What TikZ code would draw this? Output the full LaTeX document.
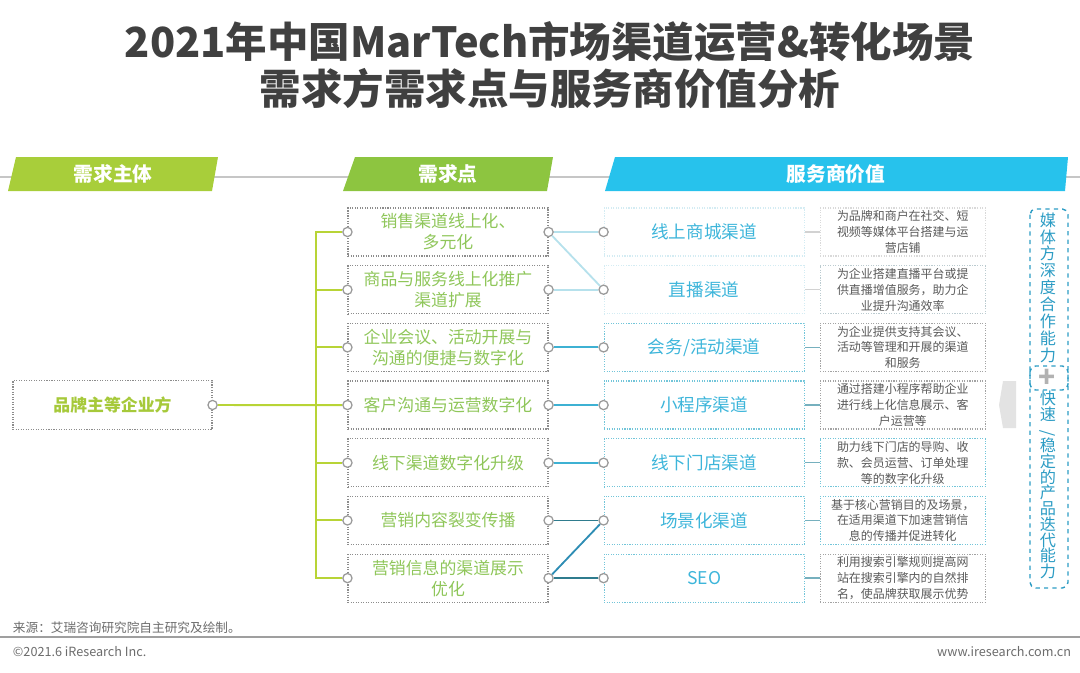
\documentclass[tikz,border=0pt]{standalone}
\usepackage{fontspec}
\setmainfont{Noto Sans CJK SC}
\usepackage{xcolor}
\usepackage{tikz}
\usetikzlibrary{positioning}
\definecolor{titlegray}{HTML}{404040}
\definecolor{hdrA}{HTML}{A8CE3A}
\definecolor{hdrB}{HTML}{8DC540}
\definecolor{hdrC}{HTML}{27C2EC}
\definecolor{boxgray}{HTML}{8C8C8C}
\definecolor{brandgreen}{HTML}{A6C93A}
\definecolor{needgreen}{HTML}{8FC65A}
\definecolor{svctext}{HTML}{3DB5DA}
\definecolor{svclight}{HTML}{D4ECF3}
\definecolor{svcline}{HTML}{72C5D9}
\definecolor{desctext}{HTML}{595959}
\definecolor{trunkgreen}{HTML}{B8D436}
\definecolor{jointgray}{HTML}{9A9A9A}
\definecolor{linkA}{HTML}{B6E1EC}
\definecolor{linkB}{HTML}{3EB1D3}
\definecolor{linkC}{HTML}{2F7C8E}
\definecolor{linkD}{HTML}{2E8DB4}
\definecolor{vblue}{HTML}{2C9CC4}

\begin{document}
\begin{tikzpicture}[
  hdr/.style={font=\fontsize{14}{14}\selectfont\bfseries, text=white},
  need/.style={draw=boxgray, densely dotted, line width=0.8pt, minimum width=5cm, minimum height=1.2cm, inner sep=1pt, align=center, text=needgreen, font=\fontsize{12}{15}\selectfont},
  svc/.style={draw=svcline, densely dotted, line width=0.8pt, minimum width=5cm, minimum height=1.2cm, inner sep=1pt, align=center, text=svctext, font=\fontsize{12.5}{15}\selectfont},
  desc/.style={draw=boxgray!80, densely dotted, line width=0.8pt, minimum width=4.125cm, minimum height=1.2cm, inner sep=0pt, align=center, text=desctext, font=\fontsize{8.5}{11.3}\selectfont},
  joint/.style={circle, draw=jointgray, fill=white, line width=0.9pt, inner sep=0pt, minimum size=0.23cm},
  trunk/.style={draw=trunkgreen, line width=1.4pt},
  lnk/.style={line width=1.3pt},
  tick/.style={line width=1pt, draw=svcline!70!gray},
  vframe/.style={draw=vblue, dashed, line width=1pt, rounded corners=4pt},
  vtxt/.style={align=center, text=vblue, inner sep=0pt}
]
\useasboundingbox (0,0) rectangle (27,-16.8);

\node[font=\fontsize{29.5}{33}\selectfont\bfseries, text=titlegray, align=center] (title) at (13.75,-1.625) {2021年中国MarTech市场渠道运营\&转化场景\\需求方需求点与服务商价值分析};

\draw[gray!45, line width=0.8pt] (0,-4.425) -- (27,-4.425);
\fill[hdrA] (0.2,-4.775) -- (0.4,-3.925) -- (5.45,-3.925) -- (5.3,-4.775) -- cycle;
\fill[hdrB] (8.575,-4.775) -- (8.875,-3.925) -- (13.825,-3.925) -- (13.675,-4.775) -- cycle;
\fill[hdrC] (15.125,-4.775) -- (15.375,-3.925) -- (26.7,-3.925) -- (26.625,-4.775) -- cycle;
\node[hdr] (h1) at (2.825,-4.35) {需求主体};
\node[hdr] (h2) at (11.2,-4.35) {需求点};
\node[hdr] (h3) at (20.9,-4.35) {服务商价值};

\node[need, minimum width=4.975cm, minimum height=1.225cm, text=brandgreen, font=\fontsize{12}{15}\selectfont\bfseries] (lb) at (2.8125,-10.125) {品牌主等企业方};

\node[need] (m1) at (11.2,-5.8) {销售渠道线上化、\\多元化};
\node[need, below=0.214cm of m1] (m2) {商品与服务线上化推广\\渠道扩展};
\node[need, below=0.214cm of m2] (m3) {企业会议、活动开展与\\沟通的便捷与数字化};
\node[need, below=0.214cm of m3] (m4) {客户沟通与运营数字化};
\node[need, below=0.214cm of m4] (m5) {线下渠道数字化升级};
\node[need, below=0.214cm of m5] (m6) {营销内容裂变传播};
\node[need, below=0.214cm of m6] (m7) {营销信息的渠道展示\\优化};

\node[svc, draw=svclight, right=1.375cm of m1] (s1) {线上商城渠道};
\node[svc, draw=svclight, right=1.375cm of m2] (s2) {直播渠道};
\node[svc, right=1.375cm of m3] (s3) {会务/活动渠道};
\node[svc, right=1.375cm of m4] (s4) {小程序渠道};
\node[svc, right=1.375cm of m5] (s5) {线下门店渠道};
\node[svc, right=1.375cm of m6] (s6) {场景化渠道};
\node[svc, right=1.375cm of m7] (s7) {SEO};

\node[desc, draw=gray!30, right=0.375cm of s1] (d1) {为品牌和商户在社交、短\\视频等媒体平台搭建与运\\营店铺};
\node[desc, draw=svclight!70!gray, right=0.375cm of s2] (d2) {为企业搭建直播平台或提\\供直播增值服务，助力企\\业提升沟通效率};
\node[desc, right=0.375cm of s3] (d3) {为企业提供支持其会议、\\活动等管理和开展的渠道\\和服务};
\node[desc, right=0.375cm of s4] (d4) {通过搭建小程序帮助企业\\进行线上化信息展示、客\\户运营等};
\node[desc, draw=svcline, right=0.375cm of s5] (d5) {助力线下门店的导购、收\\款、会员运营、订单处理\\等的数字化升级};
\node[desc, draw=svcline, right=0.375cm of s6] (d6) {基于核心营销目的及场景，\\在适用渠道下加速营销信\\息的传播并促进转化};
\node[desc, right=0.375cm of s7] (d7) {利用搜索引擎规则提高网\\站在搜索引擎内的自然排\\名，使品牌获取展示优势};

\node[joint] (lbo) at (lb.east) {};
\node[joint] (m1i) at (m1.west) {};
\node[joint] (m2i) at (m2.west) {};
\node[joint] (m3i) at (m3.west) {};
\node[joint] (m4i) at (m4.west) {};
\node[joint] (m5i) at (m5.west) {};
\node[joint] (m6i) at (m6.west) {};
\node[joint] (m7i) at (m7.west) {};
\node[joint] (m1o) at (m1.east) {};
\node[joint] (m2o) at (m2.east) {};
\node[joint] (m3o) at (m3.east) {};
\node[joint] (m4o) at (m4.east) {};
\node[joint] (m5o) at (m5.east) {};
\node[joint] (m6o) at (m6.east) {};
\node[joint] (m7o) at (m7.east) {};
\node[joint] (s1i) at (s1.west) {};
\node[joint] (s2i) at (s2.west) {};
\node[joint] (s3i) at (s3.west) {};
\node[joint] (s4i) at (s4.west) {};
\node[joint] (s5i) at (s5.west) {};
\node[joint] (s6i) at (s6.west) {};
\node[joint] (s7i) at (s7.west) {};

\coordinate (tr) at (7.9,-10.125);
\draw[trunk] (lbo) -- (m4i);
\draw[trunk] (m1i) -| (tr) |- (m7i);
\draw[trunk] (tr |- m2i) -- (m2i);
\draw[trunk] (tr |- m3i) -- (m3i);
\draw[trunk] (tr |- m5i) -- (m5i);
\draw[trunk] (tr |- m6i) -- (m6i);

\draw[lnk, linkA] (m1o) -- (s1i);
\draw[lnk, linkA] (m1o) -- (s2i);
\draw[lnk, linkA] (m2o) -- (s2i);
\draw[lnk, linkB] (m3o) -- (s3i);
\draw[lnk, linkB] (m4o) -- (s4i);
\draw[lnk, linkB] (m5o) -- (s5i);
\draw[lnk, linkC] (m6o) -- (s6i);
\draw[lnk, linkD] (m7o) -- (s6i);
\draw[lnk, linkC] (m7o) -- (s7i);

\draw[tick, gray!35] (s1) -- (d1);
\draw[tick, gray!35] (s2) -- (d2);
\draw[tick] (s3) -- (d3);
\draw[tick] (s4) -- (d4);
\draw[tick] (s5) -- (d5);
\draw[tick] (s6) -- (d6);
\draw[tick] (s7) -- (d7);

\fill[gray!22] (25.075,-9.525) -- (25.4,-9.525) -- (25.4,-10.7) -- (25.075,-10.7) -- (24.975,-10.125) -- cycle;
\draw[vframe] (25.75,-5.225) rectangle (26.7,-9.75);
\draw[vframe] (25.75,-9.15) rectangle (26.7,-14.7);
\node[vtxt, font=\fontsize{11.5}{12}\selectfont] (vt1) at (26.2,-7.1875) {媒\\体\\方\\深\\度\\合\\作\\能\\力};
\node[font=\fontsize{20}{20}\selectfont\bfseries, text=gray!60, inner sep=0pt] (plus) at (26.175,-9.45) {+};
\node[vtxt, font=\fontsize{11.5}{11.2}\selectfont] (vt2) at (26.2,-12.125) {快\\速\\\rotatebox{90}{/}\\稳\\定\\的\\产\\品\\迭\\代\\能\\力};

\node[anchor=west, font=\fontsize{9}{9}\selectfont, text=gray!85!black] (src) at (0.2,-15.7) {来源：艾瑞咨询研究院自主研究及绘制。};
\draw[gray!75, line width=1.4pt] (0,-15.925) -- (27,-15.925);
\node[anchor=west, font=\fontsize{9}{9}\selectfont, text=gray!85!black] (copy) at (0.2,-16.3) {©2021.6 iResearch Inc.};
\node[anchor=east, font=\fontsize{9}{9}\selectfont, text=gray!85!black] (url) at (26.9,-16.3) {www.iresearch.com.cn};
\end{tikzpicture}
\end{document}
